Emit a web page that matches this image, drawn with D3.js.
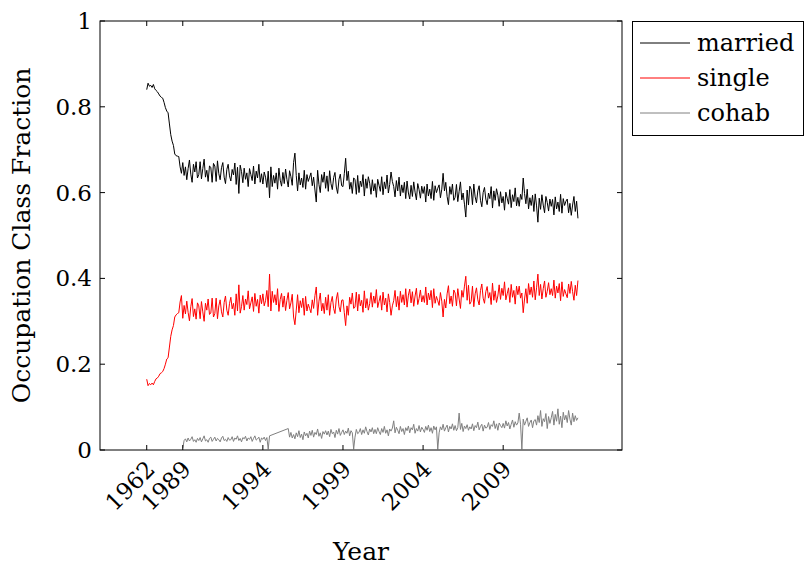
<!DOCTYPE html>
<html>
<head>
<meta charset="utf-8">
<script src="https://cdn.jsdelivr.net/npm/d3@7"></script>
<style>
  body { margin: 0; background: #fff; }
</style>
</head>
<body>
<div id="chart"></div>
<script>
// x axis is a running index: 27 yearly points (1962-1988), then monthly from Jan 1989
const tickLabels = ["1962", "1989", "1994", "1999", "2004", "2009"];
const tickIndex = [0, 27, 87, 147, 207, 267];
const yTicks = [0, 0.2, 0.4, 0.6, 0.8, 1];
const seriesNames = ["married", "single", "cohab"];

const marriedAnnual = [0.840, 0.855, 0.848, 0.850, 0.845, 0.852, 0.842, 0.838, 0.835, 0.830, 0.825, 0.822, 0.820, 0.810,
  0.798, 0.790, 0.786, 0.760, 0.735, 0.720, 0.710, 0.690, 0.686, 0.685, 0.684, 0.660, 0.645];
const marriedMonthly = [
  0.670, 0.640, 0.660, 0.630, 0.656, 0.676, 0.643, 0.624, 0.666, 0.648, 0.672, 0.634, // 1989
  0.642, 0.672, 0.632, 0.656, 0.678, 0.636, 0.652, 0.626, 0.662, 0.659, 0.624, 0.668,
  0.662, 0.626, 0.674, 0.644, 0.630, 0.658, 0.670, 0.636, 0.621, 0.654, 0.666, 0.639,
  0.627, 0.654, 0.641, 0.669, 0.619, 0.659, 0.598, 0.664, 0.649, 0.623, 0.657, 0.631,
  0.646, 0.614, 0.656, 0.642, 0.628, 0.662, 0.620, 0.650, 0.634, 0.666, 0.624, 0.644,
  0.620, 0.648, 0.636, 0.612, 0.650, 0.588, 0.660, 0.614, 0.640, 0.622, 0.646, 0.608, // 1994
  0.657, 0.629, 0.615, 0.647, 0.621, 0.655, 0.631, 0.613, 0.651, 0.637, 0.617, 0.670,
  0.692, 0.640, 0.604, 0.646, 0.618, 0.634, 0.612, 0.652, 0.608, 0.642, 0.626, 0.636,
  0.646, 0.616, 0.636, 0.606, 0.578, 0.652, 0.619, 0.600, 0.642, 0.624, 0.648, 0.610,
  0.639, 0.603, 0.651, 0.621, 0.607, 0.635, 0.647, 0.613, 0.598, 0.631, 0.643, 0.616,
  0.614, 0.644, 0.680, 0.628, 0.650, 0.608, 0.624, 0.598, 0.634, 0.631, 0.596, 0.640, // 1999
  0.600, 0.627, 0.614, 0.642, 0.592, 0.632, 0.610, 0.637, 0.622, 0.596, 0.630, 0.604,
  0.621, 0.589, 0.631, 0.617, 0.603, 0.637, 0.595, 0.625, 0.609, 0.641, 0.599, 0.619,
  0.648, 0.626, 0.614, 0.590, 0.628, 0.604, 0.636, 0.592, 0.618, 0.600, 0.624, 0.586,
  0.627, 0.599, 0.585, 0.617, 0.591, 0.625, 0.601, 0.583, 0.621, 0.607, 0.587, 0.615,
  0.598, 0.614, 0.578, 0.620, 0.592, 0.608, 0.586, 0.626, 0.582, 0.616, 0.600, 0.610, // 2004
  0.618, 0.588, 0.608, 0.645, 0.604, 0.624, 0.591, 0.572, 0.614, 0.596, 0.620, 0.582,
  0.589, 0.619, 0.579, 0.603, 0.625, 0.583, 0.599, 0.573, 0.543, 0.606, 0.571, 0.615,
  0.608, 0.572, 0.620, 0.590, 0.576, 0.604, 0.616, 0.582, 0.567, 0.600, 0.612, 0.585,
  0.572, 0.599, 0.586, 0.614, 0.564, 0.604, 0.582, 0.609, 0.594, 0.568, 0.602, 0.576,
  0.591, 0.559, 0.601, 0.587, 0.573, 0.607, 0.565, 0.595, 0.579, 0.611, 0.569, 0.589, // 2009
  0.568, 0.596, 0.584, 0.634, 0.598, 0.574, 0.608, 0.562, 0.588, 0.570, 0.594, 0.556,
  0.597, 0.569, 0.531, 0.587, 0.561, 0.595, 0.571, 0.553, 0.591, 0.577, 0.557, 0.585,
  0.568, 0.584, 0.548, 0.590, 0.562, 0.578, 0.556, 0.596, 0.552, 0.586, 0.570, 0.580,
  0.585, 0.553, 0.575, 0.547, 0.571, 0.591, 0.556, 0.580, 0.540                       // 2013
];

const singleAnnual = [0.165, 0.150, 0.155, 0.152, 0.156, 0.152, 0.160, 0.166, 0.168, 0.172, 0.178, 0.180, 0.183, 0.190,
  0.200, 0.212, 0.215, 0.240, 0.265, 0.280, 0.290, 0.310, 0.315, 0.318, 0.320, 0.345, 0.360];
const singleMonthly = [
  0.307, 0.337, 0.317, 0.347, 0.321, 0.301, 0.334, 0.353, 0.311, 0.329, 0.305, 0.343, // 1989
  0.336, 0.306, 0.346, 0.322, 0.300, 0.342, 0.326, 0.352, 0.316, 0.319, 0.354, 0.310,
  0.318, 0.354, 0.306, 0.336, 0.350, 0.322, 0.310, 0.344, 0.359, 0.326, 0.314, 0.341,
  0.356, 0.329, 0.342, 0.314, 0.364, 0.324, 0.385, 0.319, 0.334, 0.360, 0.326, 0.352,
  0.339, 0.371, 0.329, 0.343, 0.357, 0.323, 0.365, 0.335, 0.351, 0.319, 0.361, 0.341,
  0.364, 0.336, 0.348, 0.372, 0.334, 0.410, 0.324, 0.370, 0.344, 0.362, 0.338, 0.376, // 1994
  0.323, 0.351, 0.365, 0.333, 0.359, 0.325, 0.349, 0.367, 0.329, 0.343, 0.363, 0.310,
  0.292, 0.326, 0.362, 0.320, 0.348, 0.332, 0.354, 0.314, 0.358, 0.324, 0.340, 0.330,
  0.320, 0.350, 0.330, 0.360, 0.380, 0.314, 0.347, 0.366, 0.324, 0.342, 0.318, 0.356,
  0.326, 0.362, 0.314, 0.344, 0.358, 0.330, 0.318, 0.352, 0.367, 0.334, 0.322, 0.349,
  0.350, 0.320, 0.290, 0.336, 0.314, 0.356, 0.340, 0.366, 0.330, 0.333, 0.368, 0.324, // 1999
  0.363, 0.336, 0.349, 0.321, 0.371, 0.331, 0.353, 0.326, 0.341, 0.367, 0.333, 0.359,
  0.342, 0.374, 0.332, 0.346, 0.360, 0.326, 0.368, 0.338, 0.354, 0.322, 0.364, 0.344,
  0.314, 0.336, 0.348, 0.372, 0.334, 0.358, 0.326, 0.370, 0.344, 0.362, 0.338, 0.376,
  0.333, 0.361, 0.375, 0.343, 0.369, 0.335, 0.359, 0.377, 0.339, 0.353, 0.373, 0.345,
  0.360, 0.344, 0.380, 0.338, 0.366, 0.350, 0.372, 0.332, 0.376, 0.342, 0.358, 0.348, // 2004
  0.337, 0.367, 0.347, 0.310, 0.351, 0.331, 0.364, 0.383, 0.341, 0.359, 0.335, 0.373,
  0.366, 0.336, 0.376, 0.352, 0.330, 0.372, 0.356, 0.382, 0.405, 0.349, 0.384, 0.340,
  0.346, 0.382, 0.334, 0.364, 0.378, 0.350, 0.338, 0.372, 0.387, 0.354, 0.342, 0.369,
  0.381, 0.354, 0.367, 0.339, 0.389, 0.349, 0.371, 0.344, 0.359, 0.385, 0.351, 0.377,
  0.360, 0.392, 0.350, 0.364, 0.378, 0.344, 0.386, 0.356, 0.372, 0.340, 0.382, 0.362, // 2009
  0.382, 0.354, 0.366, 0.320, 0.352, 0.376, 0.342, 0.388, 0.362, 0.380, 0.356, 0.394,
  0.350, 0.378, 0.410, 0.360, 0.386, 0.352, 0.376, 0.394, 0.356, 0.370, 0.390, 0.362,
  0.376, 0.360, 0.396, 0.354, 0.382, 0.366, 0.388, 0.348, 0.392, 0.358, 0.374, 0.364,
  0.355, 0.387, 0.365, 0.393, 0.369, 0.349, 0.384, 0.360, 0.395                       // 2013
];

// cohab only exists from 1989; null = no survey value (line joins across the gap)
const cohabMonthly = [
  0.004, 0.022, 0.026, 0.019, 0.028, 0.021, 0.025, 0.031, 0.020, 0.024, 0.018, 0.027, // 1989
  0.022, 0.029, 0.019, 0.026, 0.033, 0.021, 0.024, 0.018, 0.027, 0.030, 0.020, 0.025,
  0.030, 0.021, 0.027, 0.024, 0.019, 0.028, 0.032, 0.022, 0.025, 0.020, 0.029, 0.023,
  0.024, 0.031, 0.020, 0.028, 0.025, 0.033, 0.022, 0.027, 0.019, 0.029, 0.026, 0.032,
  0.021, 0.028, 0.025, 0.031, 0.020, 0.027, 0.033, 0.023, 0.026, 0.030, 0.018, 0.028,
  0.025, 0.030, 0.022, 0.029, 0.002, 0.033, null, null, null, null, null, null,       // 1994
  null, null, null, null, null, null, null, 0.050, 0.030, 0.041, 0.028, 0.036,
  0.026, 0.040, 0.031, 0.045, 0.029, 0.037, 0.024, 0.042, 0.033, 0.039, 0.028, 0.044,
  0.034, 0.046, 0.030, 0.041, 0.036, 0.049, 0.032, 0.040, 0.027, 0.043, 0.037, 0.045,
  0.035, 0.044, 0.031, 0.048, 0.038, 0.042, 0.029, 0.046, 0.037, 0.050, 0.034, 0.041,
  0.047, 0.036, 0.044, 0.039, 0.051, 0.033, 0.045, 0.040, 0.002, 0.030, 0.048, 0.038, // 1999
  0.041, 0.050, 0.036, 0.047, 0.039, 0.054, 0.043, 0.035, 0.049, 0.042, 0.052, 0.038,
  0.048, 0.038, 0.052, 0.043, 0.036, 0.050, 0.041, 0.055, 0.039, 0.047, 0.033, 0.049,
  0.044, 0.051, 0.068, 0.040, 0.053, 0.046, 0.038, 0.055, 0.043, 0.050, 0.036, 0.052,
  0.045, 0.056, 0.040, 0.052, 0.047, 0.060, 0.039, 0.050, 0.044, 0.057, 0.042, 0.053,
  0.048, 0.041, 0.055, 0.046, 0.058, 0.043, 0.052, 0.039, 0.056, 0.047, 0.054, 0.002, // 2004
  0.040, 0.054, 0.047, 0.060, 0.044, 0.052, 0.058, 0.042, 0.055, 0.049, 0.061, 0.046,
  0.057, 0.045, 0.052, 0.086, 0.048, 0.062, 0.043, 0.056, 0.050, 0.059, 0.046, 0.054,
  0.049, 0.061, 0.045, 0.057, 0.052, 0.065, 0.047, 0.055, 0.060, 0.044, 0.058, 0.051,
  0.053, 0.064, 0.048, 0.059, 0.055, 0.068, 0.050, 0.061, 0.046, 0.063, 0.057, 0.052,
  0.062, 0.051, 0.068, 0.056, 0.064, 0.049, 0.060, 0.070, 0.053, 0.066, 0.058, 0.063, // 2009
  0.086, 0.060, 0.002, 0.072, 0.058, 0.067, 0.075, 0.055, 0.064, 0.070, 0.052, 0.068,
  0.071, 0.058, 0.080, 0.064, 0.092, 0.055, 0.073, 0.066, 0.085, 0.050, 0.078, 0.062,
  0.075, 0.090, 0.058, 0.083, 0.067, 0.096, 0.060, 0.079, 0.052, 0.088, 0.070, 0.081,
  0.064, 0.092, 0.072, 0.058, 0.086, 0.066, 0.080, 0.069, 0.075                       // 2013
];

const married = marriedAnnual.concat(marriedMonthly);
const single = singleAnnual.concat(singleMonthly);
const cohab = new Array(marriedAnnual.length).fill(null).concat(cohabMonthly);

const width = 804, height = 569;
const margin = { top: 21, right: 182, bottom: 119, left: 100 };
const colors = { married: "#000000", single: "#ff0000", cohab: "#808080" };
const fontFamily = "'DejaVu Serif', 'Liberation Serif', serif";

const svg = d3.select("#chart")
  .append("svg")
  .attr("width", width)
  .attr("height", height)
  .attr("font-family", fontFamily);

const x = d3.scaleLinear()
  .domain([-35, 356])
  .range([margin.left, width - margin.right]);

const y = d3.scaleLinear()
  .domain([0, 1])
  .range([height - margin.bottom, margin.top]);

const x0 = margin.left, x1 = width - margin.right;
const y0 = height - margin.bottom, y1 = margin.top;
const tickLen = 5;

// lines
const line = d3.line()
  .x(d => x(d[0]))
  .y(d => y(d[1]));

const series = [
  { name: "married", values: married },
  { name: "single", values: single },
  { name: "cohab", values: cohab }
];

series.forEach(s => {
  const pts = s.values.map((v, i) => [i, v]).filter(d => d[1] !== null);
  svg.append("path")
    .datum(pts)
    .attr("fill", "none")
    .attr("stroke", colors[s.name])
    .attr("stroke-width", 1)
    .attr("stroke-linejoin", "round")
    .attr("d", line);
});

// ticks (inside, on all four sides)
const tickG = svg.append("g").attr("stroke", "#000").attr("stroke-width", 1);
yTicks.forEach(t => {
  tickG.append("line").attr("x1", x0).attr("x2", x0 + tickLen).attr("y1", y(t)).attr("y2", y(t));
  tickG.append("line").attr("x1", x1).attr("x2", x1 - tickLen).attr("y1", y(t)).attr("y2", y(t));
});
tickIndex.forEach(t => {
  tickG.append("line").attr("x1", x(t)).attr("x2", x(t)).attr("y1", y0).attr("y2", y0 - tickLen);
  tickG.append("line").attr("x1", x(t)).attr("x2", x(t)).attr("y1", y1).attr("y2", y1 + tickLen);
});

// frame
svg.append("rect")
  .attr("x", x0).attr("y", y1)
  .attr("width", x1 - x0).attr("height", y0 - y1)
  .attr("fill", "none")
  .attr("stroke", "#000")
  .attr("stroke-width", 1);

// tick labels
svg.selectAll("text.ylab")
  .data(yTicks)
  .enter()
  .append("text")
  .attr("class", "ylab")
  .attr("x", x0 - 8)
  .attr("y", d => y(d))
  .attr("dy", "0.35em")
  .attr("text-anchor", "end")
  .attr("font-size", "23px")
  .text(d => d3.format("")(d));

svg.selectAll("text.xlab")
  .data(tickIndex)
  .enter()
  .append("text")
  .attr("class", "xlab")
  .attr("transform", d => `translate(${x(d) + 4}, ${y0 + 15}) rotate(-45)`)
  .attr("dy", "0.35em")
  .attr("text-anchor", "end")
  .attr("font-size", "23px")
  .text((d, i) => tickLabels[i]);

// axis titles
svg.append("text")
  .attr("x", (x0 + x1) / 2)
  .attr("y", 560)
  .attr("text-anchor", "middle")
  .attr("font-size", "25px")
  .text("Year");

svg.append("text")
  .attr("transform", `translate(30, ${(y0 + y1) / 2}) rotate(-90)`)
  .attr("text-anchor", "middle")
  .attr("font-size", "25px")
  .text("Occupation Class Fraction");

// legend
const lg = svg.append("g");
lg.append("rect")
  .attr("x", 632.5).attr("y", 21.5)
  .attr("width", 171).attr("height", 114)
  .attr("fill", "#fff")
  .attr("stroke", "#000")
  .attr("stroke-width", 1);

seriesNames.forEach((name, i) => {
  const cy = 43 + i * 35;
  lg.append("line")
    .attr("x1", 640).attr("x2", 690)
    .attr("y1", cy).attr("y2", cy)
    .attr("stroke", colors[name])
    .attr("stroke-width", 1);
  lg.append("text")
    .attr("x", 697)
    .attr("y", cy)
    .attr("dy", "0.35em")
    .attr("font-size", "24px")
    .text(name);
});
</script>
</body>
</html>
